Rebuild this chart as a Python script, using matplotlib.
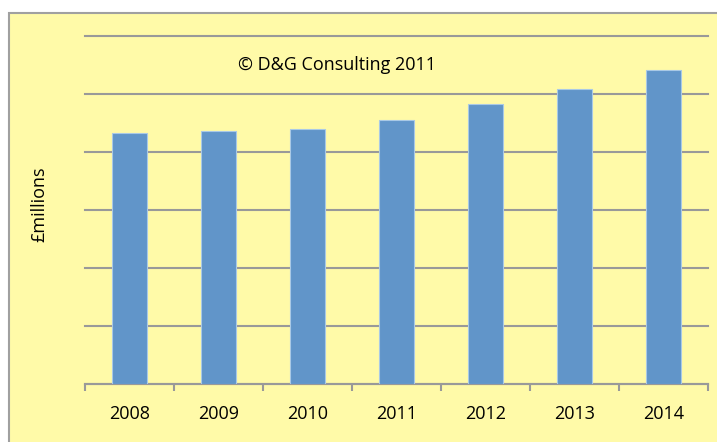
import numpy as np
import matplotlib.pyplot as plt
from matplotlib.patches import Rectangle

years = ['2008', '2009', '2010', '2011', '2012', '2013', '2014']
values = [433, 436, 439, 456, 483, 509, 542]
grid_levels = [0, 100, 200, 300, 400, 500, 600]

plt.rcParams['font.family'] = ['Open Sans', 'DejaVu Sans']

fig = plt.figure(figsize=(7.17, 4.42), dpi=100)
fig.patch.set_facecolor('white')

# yellow chart area, running off the right and bottom edges
fig.patches.append(Rectangle((9 / 717, -0.05), 1.0, 1 - 13 / 442 + 0.05,
                             transform=fig.transFigure, facecolor='#FFFAA8',
                             edgecolor='#A0A0A0', linewidth=1.5, zorder=-10))

ax = fig.add_axes([85 / 717, 58 / 442, 623 / 717, 348 / 442])
ax.set_facecolor('none')

x = np.arange(len(years))
ax.bar(x, values, width=0.4, color='#6195C9', edgecolor='#A9C9E6',
       linewidth=0.8, zorder=3)

ax.set_xlim(-0.5, len(years) - 0.5)
ax.set_ylim(0, 600)
ax.set_yticks(grid_levels)
ax.set_yticklabels([])
ax.tick_params(axis='y', length=0)
ax.grid(axis='y', color='#999999', linewidth=1.5, zorder=1)
for gl in ax.get_ygridlines():
    gl.set_clip_on(False)

ax.set_xticks(x)
ax.set_xticklabels(years, fontsize=13)
ax.tick_params(axis='x', which='major', length=0, pad=15)
ax.set_xticks(np.arange(-0.5, len(years), 1.0), minor=True)
ax.tick_params(axis='x', which='minor', length=5, width=1.5, color='#999999')

for s in ['top', 'right', 'left']:
    ax.spines[s].set_visible(False)
ax.spines['bottom'].set_color('#999999')
ax.spines['bottom'].set_linewidth(1.5)

fig.text(39 / 717, 1 - 204 / 442, '£millions', rotation=90,
         ha='center', va='center', fontsize=13)
fig.text(337 / 717, 1 - 65 / 442, '© D&G Consulting 2011',
         ha='center', va='center', fontsize=13)

fig.savefig('out.png', dpi=100)
